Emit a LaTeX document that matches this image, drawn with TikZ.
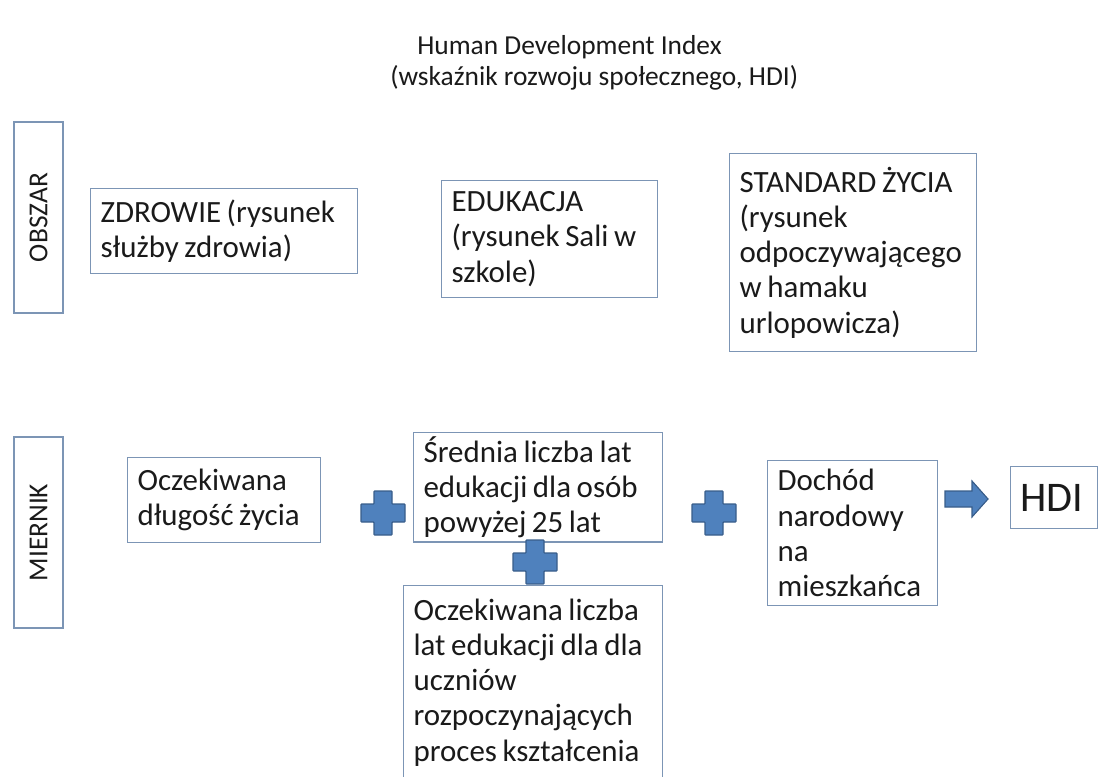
\documentclass[tikz,border=0pt]{standalone}
\usepackage{fontspec}
\setmainfont{Carlito}
\newfontfamily\boxfont{Carlito}[WordSpace=0.8]
\definecolor{boxline}{HTML}{7C95B5}
\definecolor{plusfill}{HTML}{4F81BD}
\definecolor{plusedge}{HTML}{385D8A}
\definecolor{inktext}{HTML}{1A1A1A}

\begin{document}
\begin{tikzpicture}[x=0.025cm,y=-0.025cm]
\tikzset{
  textbox/.style={draw=boxline,line width=0.8pt,anchor=north west,align=flush left,inner xsep=0.25cm,inner ysep=0.1cm,text=inktext,font=\boxfont\fontsize{22}{25}\selectfont},
  sidebox/.style={draw=boxline,line width=0.8pt,rotate=90,minimum width=4.775cm,minimum height=1.225cm,text=inktext,font=\fontsize{19.5}{22}\selectfont},
  titletext/.style={anchor=west,inner sep=0pt,text=inktext,font=\fontsize{19.5}{22}\selectfont},
  plussign/.pic={\filldraw[fill=plusfill,draw=plusedge,line width=0.8pt,rounded corners=0.5pt]
    (-9,-22) -- (9,-22) -- (9,-9) -- (22,-9) -- (22,9) -- (9,9) -- (9,22)
    -- (-9,22) -- (-9,9) -- (-22,9) -- (-22,-9) -- (-9,-9) -- cycle;},
  resultarrow/.pic={\filldraw[fill=plusfill,draw=plusedge,line width=0.8pt]
    (-21,-8) -- (6,-8) -- (6,-18) -- (22,0) -- (6,18) -- (6,8) -- (-21,8) -- cycle;}
}
\useasboundingbox (0,0) rectangle (1100,777);
\node[titletext] (n_title_en) at (417,47) {Human Development Index};
\node[titletext] (n_title_pl) at (390,78) {(wskaźnik rozwoju społecznego, HDI)};
\node[sidebox] (n_obszar) at (38.5,217.5) {OBSZAR};
\node[sidebox] (n_miernik) at (38.5,532.5) {MIERNIK};
\node[textbox,text width=6.175cm,minimum width=6.675cm,minimum height=2.125cm] (n_zdrowie) at (90,188) {ZDROWIE (rysunek\\służby zdrowia)};
\node[textbox,text width=4.9cm,minimum width=5.4cm,minimum height=2.925cm] (n_edukacja) at (441,180) {EDUKACJA\\(rysunek Sali w\\szkole)};
\node[textbox,text width=5.675cm,minimum width=6.175cm,minimum height=4.95cm] (n_standard) at (729,153) {STANDARD ŻYCIA\\(rysunek\\odpoczywającego\\w hamaku\\urlopowicza)};
\node[textbox,text width=4.325cm,minimum width=4.825cm,minimum height=2.125cm] (n_dlugosc) at (127,457) {Oczekiwana\\długość życia};
\node[textbox,text width=5.725cm,minimum width=6.225cm,minimum height=2.45cm] (n_srednia) at (413,432) {Średnia liczba lat\\edukacji dla osób\\powyżej 25 lat};
\node[textbox,text width=5.975cm,minimum width=6.475cm,minimum height=4.85cm] (n_oczekiwana) at (403,585) {Oczekiwana liczba\\lat edukacji dla dla\\uczniów\\rozpoczynających\\proces kształcenia};
\node[textbox,text width=3.75cm,minimum width=4.25cm,minimum height=3.625cm] (n_dochod) at (767,460) {Dochód\\narodowy\\na\\mieszkańca};
\node[textbox,text width=1.675cm,minimum width=2.175cm,minimum height=1.55cm,font=\fontsize{30}{34}\selectfont] (n_hdi) at (1010,466) {HDI};
\pic (n_plus_a) at (383,513) {plussign};
\pic (n_plus_b) at (535,562) {plussign};
\pic (n_plus_c) at (714,513) {plussign};
\pic (n_arrow) at (966,499) {resultarrow};
\end{tikzpicture}
\end{document}
